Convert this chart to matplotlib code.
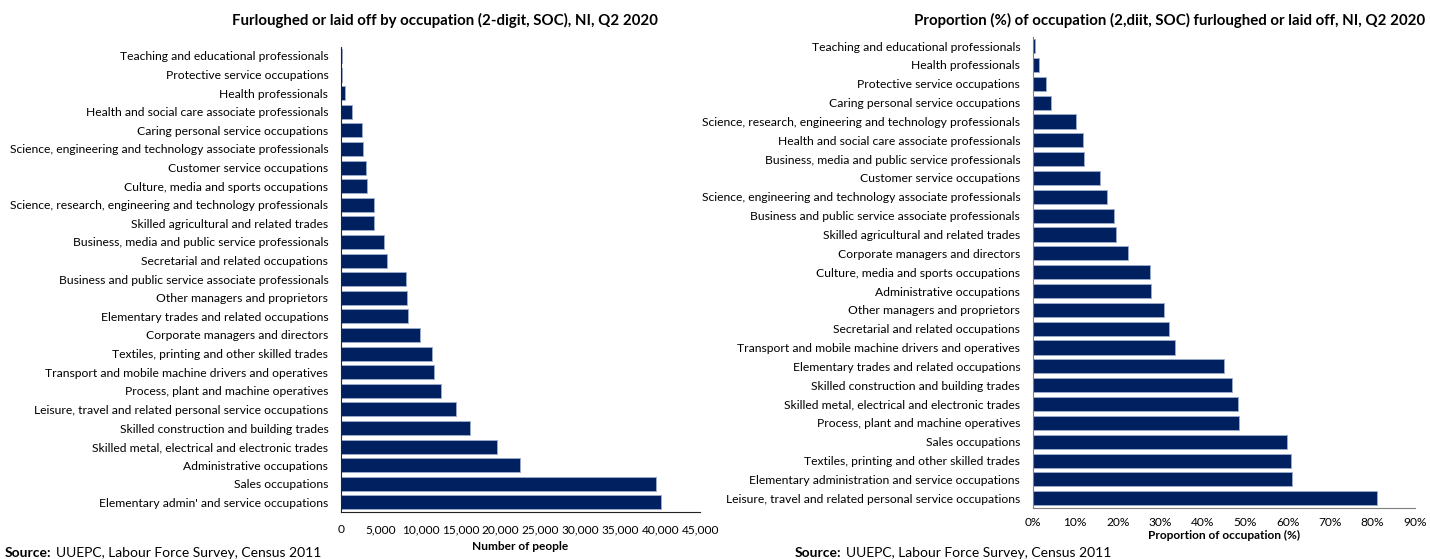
import numpy as np
import matplotlib.pyplot as plt
from matplotlib.ticker import FuncFormatter

plt.rcParams['font.family'] = ['Lato', 'DejaVu Sans']

#%% data (top to bottom as listed)

occ_count = ['Teaching and educational professionals',
             'Protective service occupations',
             'Health professionals',
             'Health and social care associate professionals',
             'Caring personal service occupations',
             'Science, engineering and technology associate professionals',
             'Customer service occupations',
             'Culture, media and sports occupations',
             'Science, research, engineering and technology professionals',
             'Skilled agricultural and related trades',
             'Business, media and public service professionals',
             'Secretarial and related occupations',
             'Business and public service associate professionals',
             'Other managers and proprietors',
             'Elementary trades and related occupations',
             'Corporate managers and directors',
             'Textiles, printing and other skilled trades',
             'Transport and mobile machine drivers and operatives',
             'Process, plant and machine operatives',
             'Leisure, travel and related personal service occupations',
             'Skilled construction and building trades',
             'Skilled metal, electrical and electronic trades',
             'Administrative occupations',
             'Sales occupations',
             "Elementary admin' and service occupations"]
people = [200, 150, 500, 1380, 2630, 2830, 3170, 3260, 4210, 4200,
          5390, 5760, 8220, 8310, 8390, 9940, 11400, 11730, 12530, 14490,
          16200, 19620, 22470, 39470, 40050]

occ_prop = ['Teaching and educational professionals',
            'Health professionals',
            'Protective service occupations',
            'Caring personal service occupations',
            'Science, research, engineering and technology professionals',
            'Health and social care associate professionals',
            'Business, media and public service professionals',
            'Customer service occupations',
            'Science, engineering and technology associate professionals',
            'Business and public service associate professionals',
            'Skilled agricultural and related trades',
            'Corporate managers and directors',
            'Culture, media and sports occupations',
            'Administrative occupations',
            'Other managers and proprietors',
            'Secretarial and related occupations',
            'Transport and mobile machine drivers and operatives',
            'Elementary trades and related occupations',
            'Skilled construction and building trades',
            'Skilled metal, electrical and electronic trades',
            'Process, plant and machine operatives',
            'Sales occupations',
            'Textiles, printing and other skilled trades',
            'Elementary administration and service occupations',
            'Leisure, travel and related personal service occupations']
proportion = [0.6, 1.4, 3.2, 4.3, 10.1, 11.9, 12.1, 15.9, 17.4, 19.1,
              19.7, 22.4, 27.7, 27.9, 30.8, 32.0, 33.5, 45.1, 46.8, 48.3,
              48.6, 59.8, 60.7, 61.0, 81.0]

bar_color = '#002060'
edge_color = '#9aaacb'

#%% figure

fig = plt.figure(figsize=(14.3, 5.59), dpi=100)

def style_axis(ax, spine_color):
    for s in ['top', 'right']:
        ax.spines[s].set_visible(False)
    ax.spines['left'].set_color(spine_color)
    ax.spines['bottom'].set_color(spine_color)
    ax.tick_params(axis='both', length=0, colors='#000000')
    ax.tick_params(axis='y', pad=9, labelsize=8.7)
    ax.tick_params(axis='x', pad=9, labelsize=8.6)

# number of people
ax1 = fig.add_axes([0.2383, 0.0846, 0.2513, 0.8319])
y1 = np.arange(len(occ_count))
ax1.barh(y1, people, height=0.75, color=bar_color, edgecolor=edge_color, linewidth=0.7)
ax1.set_yticks(y1)
ax1.set_yticklabels(occ_count)
ax1.set_ylim(len(occ_count) - 0.5, -0.5)
ax1.set_xlim(0, 45000)
ax1.set_xticks(np.arange(0, 45001, 5000))
ax1.xaxis.set_major_formatter(FuncFormatter(lambda v, p: '{:,.0f}'.format(v)))
style_axis(ax1, '#222222')
ax1.set_xlabel('Number of people', fontsize=8.6, fontweight='bold', labelpad=4)
fig.text(445 / 1430, 1 - 20 / 559, 'Furloughed or laid off by occupation (2-digit, SOC), NI, Q2 2020',
         ha='center', va='center', fontsize=10.8, fontweight='bold')

# proportion of occupation
ax2 = fig.add_axes([0.7222, 0.0918, 0.2673, 0.8426])
y2 = np.arange(len(occ_prop))
ax2.barh(y2, proportion, height=0.75, color=bar_color, edgecolor=edge_color, linewidth=0.7)
ax2.set_yticks(y2)
ax2.set_yticklabels(occ_prop)
ax2.set_ylim(len(occ_prop) - 0.5, -0.5)
ax2.set_xlim(0, 90)
ax2.set_xticks(np.arange(0, 91, 10))
ax2.xaxis.set_major_formatter(FuncFormatter(lambda v, p: '{:.0f}%'.format(v)))
style_axis(ax2, '#7f7f7f')
ax2.tick_params(axis='x', pad=7)
ax2.set_xlabel('Proportion of occupation (%)', fontsize=8.6, fontweight='bold', labelpad=1)
fig.text(1170 / 1430, 1 - 20 / 559, 'Proportion (%) of occupation (2,diit, SOC) furloughed or laid off, NI, Q2 2020',
         ha='center', va='center', fontsize=10.8, fontweight='bold')

# source notes: bold lead-in followed by plain text
renderer = fig.canvas.get_renderer()
for xs in [5, 795]:
    t = fig.text(xs / 1430, 1 - 557 / 559, 'Source:', ha='left', va='baseline',
                 fontsize=10, fontweight='bold')
    bb = t.get_window_extent(renderer=renderer)
    fig.text((bb.x1 + 4) / 1430, 1 - 557 / 559, 'UUEPC, Labour Force Survey, Census 2011',
             ha='left', va='baseline', fontsize=10)

fig.savefig('out.png', dpi=100)
